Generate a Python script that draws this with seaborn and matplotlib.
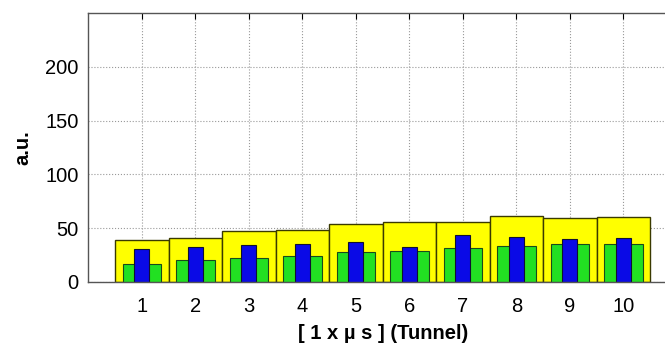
import seaborn as sns
import matplotlib.pyplot as plt
import matplotlib
import pandas as pd

matplotlib.use('Agg')

# values
tunnels = ["1", "2", "3", "4", "5", "6", "7", "8", "9", "10"]
yellow_vals = [38.9, 41.0, 47.5, 48.1, 53.7, 55.9, 55.9, 61.1, 59.6, 60.5]
blue_vals = [30.3, 32.4, 34.3, 35.2, 37.3, 32.4, 43.8, 42.0, 39.5, 40.4]
green_vals = [16.7, 20.4, 22.5, 24.4, 28.0, 29.0, 31.2, 33.6, 34.9, 35.2]
y_ticks = [0, 50, 100, 150, 200]

df = pd.DataFrame({"tunnel": tunnels, "yellow": yellow_vals,
                   "blue": blue_vals, "green": green_vals})

sns.set_style("white")
plt.rcParams['font.family'] = ['Liberation Sans', 'DejaVu Sans']
plt.rcParams['text.color'] = 'black'
plt.rcParams['axes.labelcolor'] = 'black'
plt.rcParams['xtick.color'] = 'black'
plt.rcParams['ytick.color'] = 'black'

fig = plt.figure(figsize=(6.65, 3.45), dpi=100)
ax = fig.add_axes([0.133, 0.183, 0.885, 0.779])

# wide yellow bars, then green, then narrow blue on top
sns.barplot(data=df, x="tunnel", y="yellow", order=tunnels, color="#ffff00",
            saturation=1, width=1.0, edgecolor="#3a3a00", linewidth=1.0, ax=ax)
sns.barplot(data=df, x="tunnel", y="green", order=tunnels, color="#22e022",
            saturation=1, width=0.72, edgecolor="#1a4a1a", linewidth=0.8, ax=ax)
sns.barplot(data=df, x="tunnel", y="blue", order=tunnels, color="#0a0ae6",
            saturation=1, width=0.28, edgecolor="#101030", linewidth=0.8, ax=ax)

ax.set_xlim(-1, 10)
ax.set_ylim(0, 250)
ax.set_yticks(y_ticks)
ax.set_yticklabels([str(v) for v in y_ticks])

ax.grid(True, linestyle=":", color="#999999", linewidth=0.8)
ax.set_axisbelow(True)
ax.tick_params(direction="in", length=4, top=True, right=True,
               labelsize=14.5, colors="black")
ax.tick_params(axis="x", pad=11)
ax.tick_params(axis="y", pad=7)
for sp in ax.spines.values():
    sp.set_color("#555555")
    sp.set_linewidth(1.0)

ax.set_xlabel("[ 1 x \u00b5 s ] (Tunnel)", fontsize=14.5, fontweight="bold", labelpad=6)
ax.set_ylabel("a.u.", fontsize=14.5, fontweight="bold", labelpad=9)

fig.savefig("out.png", dpi=100)
